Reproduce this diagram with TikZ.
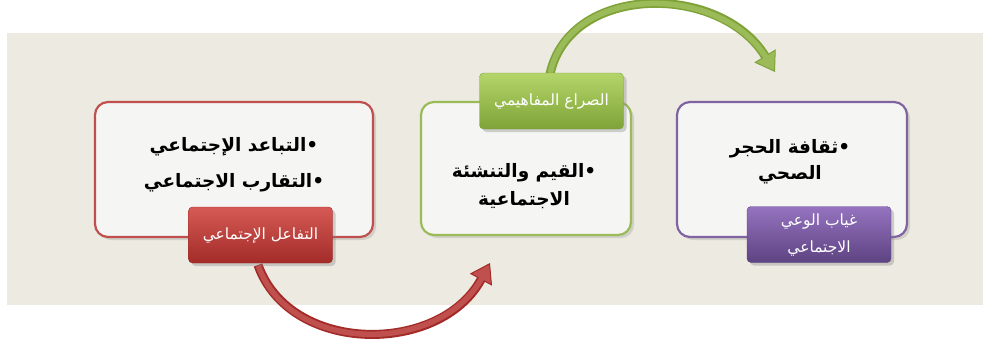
\documentclass[tikz,border=0pt]{standalone}
\usepackage{fontspec}
\usetikzlibrary{arrows.meta,shadows}
\TeXXeTstate=1
\newfontfamily\arabicfont[Script=Arabic]{DejaVu Sans}
\definecolor{bandbg}{HTML}{ECEAE1}
\definecolor{boxfill}{HTML}{F5F5F4}
\definecolor{redline}{HTML}{C0504D}
\definecolor{greenline}{HTML}{9BBB59}
\definecolor{purpleline}{HTML}{8064A2}
\definecolor{redtop}{HTML}{D65A55}
\definecolor{redbot}{HTML}{A22B28}
\definecolor{greentop}{HTML}{B4D56A}
\definecolor{greenbot}{HTML}{7FA338}
\definecolor{purpletop}{HTML}{9573C0}
\definecolor{purplebot}{HTML}{5E4382}
\begin{document}
\begin{tikzpicture}[x=1pt,y=-1pt,
	box/.style={draw=#1, line width=2.2pt, fill=boxfill, rounded corners=13pt,
		drop shadow={opacity=0.25, shadow xshift=3pt, shadow yshift=-3pt}},
	boxtext/.style={font=\arabicfont\bfseries\fontsize{18.5}{#1}\selectfont, align=center, text=black},
	tab/.style={rounded corners=4pt, top color=#1top, bottom color=#1bot, draw=#1bot,
		minimum width=144pt, minimum height=56pt,
		drop shadow={opacity=0.35, shadow xshift=3pt, shadow yshift=-3pt},
		font=\arabicfont\fontsize{15.5}{27}\selectfont, text=white, align=center},
	bigarrow/.style={draw=#1bot, line width=9pt,
		-{Triangle[width=25pt,length=19pt,line width=1pt,fill=#1line]}},
	shine/.style={draw=#1line, line width=5.5pt, shorten >=17pt, shorten <=1pt}]
	
	\useasboundingbox (0,0) rectangle (983,338);
	\fill[bandbg] (7,33) rectangle (983,305);
	
	%boxes
	\node[box=redline, minimum width=278pt, minimum height=135pt] (soc) at (234,169.5) {};
	\node[box=greenline, minimum width=210pt, minimum height=133pt] (val) at (526,168.5) {};
	\node[box=purpleline, minimum width=230pt, minimum height=135pt] (cult) at (792,169.5) {};
	
	\node[boxtext=36] (socT) at (234,165) {\beginR•التباعد الإجتماعي\endR\\\beginR•التقارب الاجتماعي\endR};
	\node[boxtext=28] (valT) at (524,186) {\beginR•القيم والتنشئة\endR\\\beginR الاجتماعية\endR};
	\node[boxtext=26] (cultT) at (790,162) {\beginR•ثقافة الحجر\endR\\\beginR الصحي\endR};
	
	%arrows
	\coordinate (r0) at (258,265);
	\coordinate (r1) at (490,263);
	\coordinate (g0) at (550,74);
	\coordinate (g1) at (775,72);
	\draw[bigarrow=red] (r0) .. controls (290,355) and (440,355) .. (r1);
	\draw[shine=red] (r0) .. controls (290,355) and (440,355) .. (r1);
	\draw[bigarrow=green] (g0) .. controls (570,-17) and (720,-17) .. (g1);
	\draw[shine=green] (g0) .. controls (570,-17) and (720,-17) .. (g1);
	
	%tabs
	\node[tab=red] (interact) at (260.5,235) {\beginR التفاعل الإجتماعي\endR};
	\node[tab=green] (conflict) at (551.5,101) {\beginR الصراع المفاهيمي\endR};
	\node[tab=purple] (aware) at (819,234.5) {\beginR غياب الوعي\endR\\\beginR الاجتماعي\endR};
	
\end{tikzpicture}
\end{document}
